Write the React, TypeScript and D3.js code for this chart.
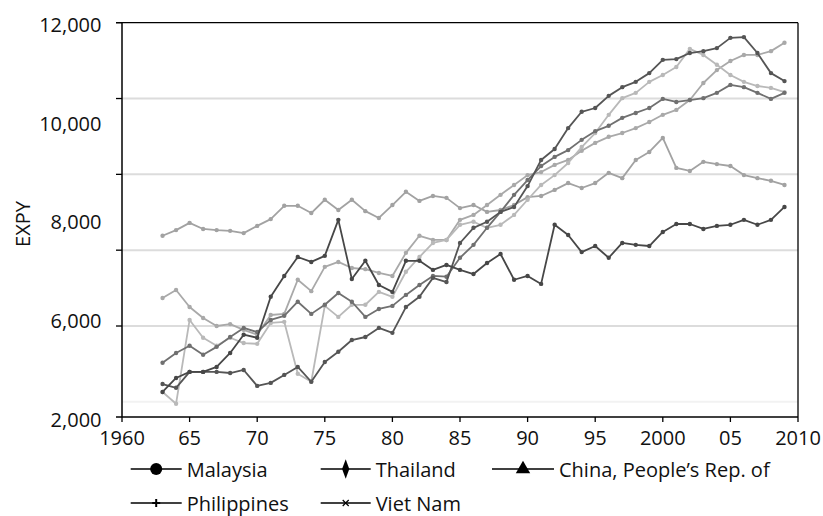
import React from "react";
import * as d3 from "d3";

// ---- data (EXPY), years 1963–2009 ----
const years = d3.range(1963, 2010);

const malaysia = [2470, 2370, 2790, 2790, 2790, 2760, 2840, 2420, 2500, 2710, 2920, 2530, 3050, 3320, 3630, 3710, 3950, 3820, 4500, 4770, 5270, 5160, 6190,
  6590, 6750, 7010, 7140, 7690, 8380, 8670, 9220, 9650, 9750, 10070, 10300, 10440, 10670, 11020, 11040, 11200, 11250, 11330, 11600, 11620, 11200, 10670, 10460];

const thailand = [3030, 3290, 3480, 3240, 3450, 3710, 3950, 3840, 4160, 4270, 4640, 4320, 4560, 4870, 4640, 4240, 4450, 4530, 4820, 5080, 5320, 5300, 5800,
  6140, 6590, 7010, 7460, 7850, 8220, 8460, 8640, 8910, 9140, 9280, 9490, 9620, 9750, 9990, 9910, 9960, 10010, 10150, 10360, 10300, 10150, 9990, 10150];

const china = [4740, 4950, 4500, 4210, 4000, 4050, 3900, 3770, 4290, 4320, 5220, 4920, 5560, 5690, 5530, 5500, 5400, 5320, 5930, 6380, 6270, 6270, 6800,
  6930, 7190, 7460, 7720, 7980, 8060, 8250, 8380, 8620, 8830, 8990, 9090, 9220, 9380, 9570, 9700, 9960, 10410, 10750, 10990, 11150, 11150, 11250, 11470];

const philippines = [6380, 6530, 6720, 6560, 6530, 6510, 6450, 6640, 6820, 7170, 7170, 6980, 7330, 7060, 7330, 7030, 6850, 7190, 7540, 7300, 7430, 7380, 7110,
  7190, 7010, 7060, 7190, 7400, 7430, 7590, 7770, 7640, 7770, 8040, 7900, 8380, 8590, 8960, 8170, 8090, 8330, 8270, 8220, 7980, 7900, 7830, 7720];

const vietNam = [2260, 1950, 4160, 3690, 3480, 3690, 3550, 3530, 4080, 4110, 2740, 2530, 4530, 4240, 4560, 4560, 4900, 4770, 5430, 5820, 6190, 6270, 6670,
  6750, 6590, 6670, 6930, 7330, 7720, 7980, 8300, 8720, 9090, 9570, 10010, 10150, 10440, 10620, 10830, 11310, 11150, 10890, 10620, 10440, 10330, 10280, 10170];

const unlabeled = [2260, 2630, 2790, 2790, 2920, 3290, 3770, 3690, 4770, 5320, 5820, 5690, 5850, 6800, 5240, 5720, 5080, 4900, 5720, 5720, 5480, 5610, 5480,
  5370, 5660, 5900, 5220, 5320, 5110, 6670, 6400, 5950, 6110, 5800, 6190, 6140, 6110, 6480, 6690, 6690, 6560, 6640, 6670, 6800, 6670, 6800, 7140];

const seriesValues = [philippines, china, vietNam, thailand, malaysia, unlabeled];
const seriesColors = ["#a2a2a2", "#a9a9a9", "#b9b9b9", "#707070", "#555555", "#474747"];

const yTickValues = [12000, 10000, 8000, 6000, 4000];
const yGridValues = [10000, 8000, 6000, 4000, 2000];
const yTickLabels = ["12,000", "10,000", "8,000", "6,000", "2,000"];
const xTickValues = [1960, 1965, 1970, 1975, 1980, 1985, 1990, 1995, 2000, 2005, 2010];
const xTickLabels = ["1960", "65", "70", "75", "80", "85", "90", "95", "2000", "05", "2010"];

const legendNames = ["Malaysia", "Thailand", "China, People\u2019s Rep. of", "Philippines", "Viet Nam"];
const legendMarkers = ["circle", "diamond", "triangle", "plus", "cross"];

const W = 823, H = 516;
const M = { left: 122, right: 798, top: 22.7, bottom: 417 };
const FONT = "'Open Sans', 'Noto Sans', sans-serif";

function LegendMarker({ kind, cx, cy }: { kind: string; cx: number; cy: number }) {
  if (kind === "circle") return <circle cx={cx} cy={cy} r={6} fill="#000" />;
  if (kind === "diamond") {
    const p = d3.symbol().type(d3.symbolDiamond).size(70)();
    return <path d={p || ""} transform={`translate(${cx},${cy}) scale(0.8,1.25)`} fill="#000" />;
  }
  if (kind === "triangle") {
    const p = d3.symbol().type(d3.symbolTriangle).size(90)();
    return <path d={p || ""} transform={`translate(${cx},${cy})`} fill="#000" />;
  }
  if (kind === "plus")
    return <path d={`M${cx - 4},${cy}H${cx + 4}M${cx},${cy - 4}V${cy + 4}`} stroke="#000" strokeWidth={2} />;
  return <path d={`M${cx - 3},${cy - 3}L${cx + 3},${cy + 3}M${cx - 3},${cy + 3}L${cx + 3},${cy - 3}`} stroke="#000" strokeWidth={1.2} />;
}

export default function App() {
  const x = d3.scaleLinear().domain([1960, 2010]).range([M.left, M.right]);
  const y = d3.scaleLinear().domain([1600, 12000]).range([M.bottom, M.top]);
  const yLab = d3.scalePoint<string>().domain(yTickLabels).range([M.top, M.bottom]);
  const line = d3.line<number>().x((_, i) => x(years[i])).y((d) => y(d));

  const legendCols = [130.7, 320.7, 492];
  const legendRows = [469, 503];
  const legendLineLen = [51, 50, 62];

  return (
    <div style={{ position: "absolute", left: 0, top: 0 }}>
      <svg width={W} height={H} style={{ display: "block", background: "#fff" }} fontFamily={FONT}>
        {yGridValues.map((v) => (
          <line key={v} x1={M.left} x2={M.right} y1={y(v)} y2={y(v)}
            stroke={v === 2000 ? "#f2f2f2" : "#dcdcdc"} strokeWidth={2} />
        ))}
        {seriesValues.map((vals, si) => (
          <g key={si}>
            <path d={line(vals) || ""} fill="none" stroke={seriesColors[si]} strokeWidth={1.8} strokeLinejoin="round" />
            {vals.map((v, i) => (
              <circle key={i} cx={x(years[i])} cy={y(v)} r={2.2} fill={seriesColors[si]} />
            ))}
          </g>
        ))}
        <line x1={M.left - 6} x2={M.right} y1={M.top} y2={M.top} stroke="#000" strokeWidth={1.3} />
        <line x1={M.right} x2={M.right} y1={M.top} y2={M.bottom} stroke="#000" strokeWidth={1.3} />
        <line x1={M.left} x2={M.left} y1={M.top} y2={M.bottom} stroke="#000" strokeWidth={1.5} />
        <line x1={M.left - 6} x2={M.right} y1={M.bottom} y2={M.bottom} stroke="#000" strokeWidth={1.5} />
        {yTickValues.map((v) => (
          <line key={v} x1={M.left - 6} x2={M.left} y1={y(v)} y2={y(v)} stroke="#000" strokeWidth={1.3} />
        ))}
        {yTickLabels.map((t) => (
          <text key={t} x={101.5} y={(yLab(t) || 0) + 2} textAnchor="end" dominantBaseline="central" fontSize={20} fill="#111">{t}</text>
        ))}
        <text transform={`translate(22,224) rotate(-90)`} textAnchor="middle" dominantBaseline="central" fontSize={20} fill="#111">EXPY</text>
        {xTickValues.map((v, i) => (
          <g key={v}>
            <line x1={x(v)} x2={x(v)} y1={M.bottom} y2={M.bottom + 5} stroke="#000" strokeWidth={1.3} />
            <text x={x(v)} y={445} textAnchor="middle" fontSize={20} fill="#111">{xTickLabels[i]}</text>
          </g>
        ))}
        {legendNames.map((n, i) => {
          const col = i % 3, row = Math.floor(i / 3);
          const x0 = legendCols[col], cy = legendRows[row];
          const len = legendLineLen[col];
          return (
            <g key={n}>
              <line x1={x0} x2={x0 + len} y1={cy} y2={cy} stroke="#000" strokeWidth={1.3} />
              <LegendMarker kind={legendMarkers[i]} cx={x0 + len / 2} cy={cy} />
              <text x={x0 + len + 5} y={cy} dominantBaseline="central" fontSize={20} fill="#111">{n}</text>
            </g>
          );
        })}
      </svg>
    </div>
  );
}
